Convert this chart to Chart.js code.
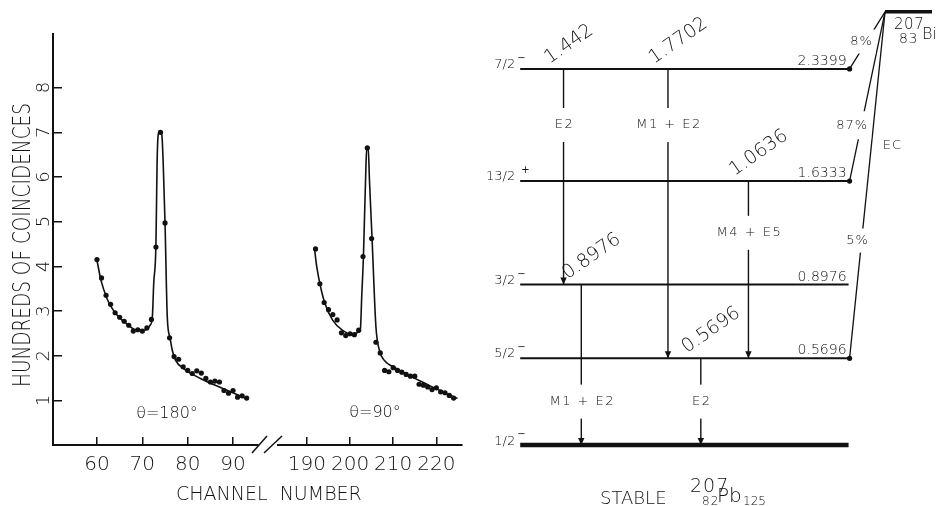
<!DOCTYPE html>
<html>
<head>
<meta charset="utf-8">
<script src="https://cdn.jsdelivr.net/npm/chart.js@4.4.0/dist/chart.umd.min.js"></script>
<style>
  html, body { margin: 0; padding: 0; background: #fff; }
  #wrap { position: relative; width: 936px; height: 506px; overflow: hidden; }
  canvas { position: absolute; top: 0; }
</style>
</head>
<body>
<div id="wrap">
  <canvas id="spec180" width="470" height="506" style="left:0;width:470px;height:506px"></canvas>
  <canvas id="spec90" width="210" height="506" style="left:262px;width:210px;height:506px"></canvas>
  <canvas id="levels" width="466" height="506" style="left:470px;width:466px;height:506px"></canvas>
</div>
<script>
// coincidence spectra, theta = 180 deg
const ch180 = [60,61,62,63,64,65,66,67,68,69,70,71,72,73,74,75,76,77,78,79,80,81,82,83,84,85,86,87,88,89,90,91,92,93];
const counts180 = [4.15,3.74,3.35,3.15,2.96,2.86,2.77,2.68,2.55,2.58,2.55,2.62,2.81,4.43,7.0,4.97,2.40,1.98,1.92,1.75,1.67,1.60,1.66,1.61,1.49,1.41,1.43,1.41,1.22,1.16,1.22,1.07,1.10,1.05];
const fitCh180 = [60,60.9,62.2,63.2,64.5,66.7,68.9,70.4,71.7,72.2,72.5,73.0,73.25,73.5,73.9,74.3,74.6,75,75.5,76.1,76.6,77.3,79.1,82.8,87.9,92.9];
const fit180 = [4.13,3.68,3.28,3.08,2.9,2.7,2.57,2.57,2.68,2.86,3.6,4.5,6.3,6.95,7.03,6.95,6.3,4.97,2.86,2.4,2.12,1.9,1.71,1.49,1.26,1.04];

// theta = 90 deg
const ch90 = [192,193,194,195,196,197,198,199,200,201,202,203,204,205,206,207,208,209,210,211,212,213,214,215,216,217,218,219,220,221,222,223,224];
const counts90 = [4.39,3.61,3.19,3.03,2.92,2.80,2.51,2.45,2.49,2.47,2.57,4.22,6.65,4.62,2.30,2.06,1.67,1.64,1.73,1.67,1.63,1.58,1.54,1.54,1.36,1.34,1.30,1.24,1.28,1.19,1.17,1.11,1.05];
const fitCh90 = [191.8,192.3,193.1,194.2,196,198.2,200.5,202,202.4,202.7,203.1,203.7,203.9,204.2,204.5,205.1,206.0,206.8,207.9,210.8,218.2,224.9];
const fit90 = [4.36,3.98,3.57,3.16,2.79,2.57,2.48,2.53,2.6,3.31,4.22,6.3,6.67,6.67,5.92,4.62,2.64,2.12,1.9,1.71,1.34,1.04];

const yTicks = [1,2,3,4,5,6,7,8];
const xTicksLow = [60,70,80,90];
const xTicksHigh = [190,200,210,220];

// 207Pb level scheme (MeV)
const levelEnergy = [0, 0.5696, 0.8976, 1.6333, 2.3399];
const levelSpin = ['1/2', '5/2', '3/2', '13/2', '7/2'];
const levelParity = ['\u2212', '\u2212', '\u2212', '+', '\u2212'];
const gammaFrom = [4, 4, 3, 2, 1];
const gammaTo = [2, 1, 1, 0, 0];
const gammaLabel = ['1.442', '1.7702', '1.0636', '0.8976', '0.5696'];
const gammaMult = ['E2', 'M1 + E2', 'M4 + E5', 'M1 + E2', 'E2'];
const ecLevel = [4, 3, 1];
const ecBranch = ['8%', '87%', '5%'];

// drawing layout of the scheme (not data): where each level sits in the schematic drawing
const levelDrawE = [0, 0.539, 0.998, 1.642, 2.3399];
const gammaCol = [13.2, 45, 69.5, 18.6, 55];
const multGap = [[4, 3], [4, 3], [3, 2], [1, 0], [1, 0]];
const parentDrawE = 2.695;
const ecAt = [0.52, 0.67, 0.66];
const ecDx = [-5, -9, -4];

const INK = '#111';
const FAM = '"DejaVu Sans"';

// piecewise scale: a level diagram is drawn schematically, not to scale
function warp(v) {
  const k = levelEnergy, d = levelDrawE, n = k.length;
  if (v <= k[0]) return d[0] + (v - k[0]);
  if (v >= k[n - 1]) return d[n - 1] + (v - k[n - 1]);
  for (let i = 1; i < n; i++) {
    if (v <= k[i]) return d[i - 1] + (v - k[i - 1]) * (d[i] - d[i - 1]) / (k[i] - k[i - 1]);
  }
}
class SchemeScale extends Chart.LinearScale {
  getPixelForValue(v) { return super.getPixelForValue(warp(v)); }
}
SchemeScale.id = 'scheme';
SchemeScale.defaults = Chart.LinearScale.defaults;
Chart.register(SchemeScale);

function txt(ctx, s, x, y, o = {}) {
  const size = o.size || 14;
  ctx.save();
  ctx.font = `${o.weight || (size <= 14 ? 400 : 200)} ${size}px ${FAM}`;
  ctx.textAlign = o.align || 'left';
  ctx.textBaseline = o.base || 'alphabetic';
  ctx.letterSpacing = (o.ls || 0) + 'px';
  ctx.translate(x, y);
  if (o.rot) ctx.rotate(o.rot * Math.PI / 180);
  if (o.sx) ctx.scale(o.sx, 1);
  if (o.bg) {
    const w = ctx.measureText(s).width;
    ctx.fillStyle = '#fff';
    ctx.fillRect(-w / 2 - o.bg[0], -o.bg[1] / 2, w + 2 * o.bg[0], o.bg[1]);
  }
  ctx.fillStyle = INK;
  ctx.fillText(s, 0, 0);
  ctx.restore();
}

function line(ctx, x1, y1, x2, y2, w) {
  ctx.save();
  ctx.strokeStyle = INK;
  ctx.lineWidth = w || 1.5;
  ctx.beginPath();
  ctx.moveTo(x1, y1);
  ctx.lineTo(x2, y2);
  ctx.stroke();
  ctx.restore();
}

function pts(xs, ys) { return xs.map((x, i) => ({ x, y: ys[i] })); }

function spectrumDatasets(chs, counts, fitCh, fit) {
  return [
    { type: 'line', data: pts(fitCh, fit), borderColor: INK, borderWidth: 1.6, pointRadius: 0,
      cubicInterpolationMode: 'monotone', fill: false },
    { data: pts(chs, counts), pointRadius: 2.6, pointBackgroundColor: INK, pointBorderWidth: 0 }
  ];
}

function xAxis(min, max, ticks) {
  return {
    type: 'linear', min, max,
    afterBuildTicks: s => { s.ticks = ticks.map(v => ({ value: v })); },
    afterFit: s => { s.height = 61; },
    grid: { drawOnChartArea: false, tickLength: -8, color: INK, lineWidth: 1.5 },
    border: { color: INK, width: 2 },
    ticks: { color: INK, padding: 16, font: { family: FAM, size: 20, weight: 200 } }
  };
}

const common = {
  responsive: false, animation: false, events: [],
  plugins: { legend: { display: false }, tooltip: { enabled: false } }
};

new Chart(document.getElementById('spec180'), {
  type: 'scatter',
  data: { datasets: spectrumDatasets(ch180, counts180, fitCh180, fit180) },
  options: {
    ...common,
    layout: { padding: { top: 34, right: 212, left: 0, bottom: 0 } },
    scales: {
      x: xAxis(50.3, 95.5, xTicksLow),
      y: {
        min: 0, max: 9.2,
        afterBuildTicks: s => { s.ticks = yTicks.map(v => ({ value: v })); },
        afterFit: s => { s.width = 53; },
        grid: { drawOnChartArea: false, tickLength: -9, color: INK, lineWidth: 1.5 },
        border: { color: INK, width: 2 },
        ticks: { color: INK, padding: 12, minRotation: 90, maxRotation: 90, crossAlign: 'center',
          font: { family: FAM, size: 18, weight: 200 } }
      }
    }
  },
  plugins: [{
    id: 'notes180',
    afterDraw(chart) {
      const ctx = chart.ctx, a = chart.chartArea;
      txt(ctx, 'HUNDREDS OF COINCIDENCES', 30, 245, { size: 24, sx: 0.77, rot: -90, align: 'center' });
      txt(ctx, '\u03b8=180\u00b0', 167, 418, { size: 16, align: 'center' });
      txt(ctx, 'CHANNEL  NUMBER', 176, 500, { size: 19 });
      // axis break
      line(ctx, a.right - 6, a.bottom + 8, a.right + 9, a.bottom - 9, 1.5);
      line(ctx, a.right + 6, a.bottom + 8, a.right + 24, a.bottom - 9, 1.5);
    }
  }]
});

new Chart(document.getElementById('spec90'), {
  type: 'scatter',
  data: { datasets: spectrumDatasets(ch90, counts90, fitCh90, fit90) },
  options: {
    ...common,
    layout: { padding: { top: 34, right: 2, left: 16, bottom: 0 } },
    scales: {
      x: xAxis(183.3, 226, xTicksHigh),
      y: { min: 0, max: 9.2, display: false }
    }
  },
  plugins: [{
    id: 'notes90',
    afterDraw(chart) {
      txt(chart.ctx, '\u03b8=90\u00b0', 113, 417, { size: 16, align: 'center' });
    }
  }]
});

// level scheme
const schemeSets = [];
levelEnergy.forEach((e, i) => {
  schemeSets.push({ data: [{ x: 0, y: e }, { x: 100, y: e }], borderWidth: i === 0 ? 4.5 : 2 });
});
schemeSets.push({ data: [{ x: 111.1, y: parentDrawE }, { x: 126, y: parentDrawE }], borderWidth: 3.5 });
gammaFrom.forEach((f, i) => {
  schemeSets.push({ data: [{ x: gammaCol[i], y: levelEnergy[f] }, { x: gammaCol[i], y: levelEnergy[gammaTo[i]] }], borderWidth: 1.4 });
});
ecLevel.forEach(l => {
  schemeSets.push({ data: [{ x: 111.1, y: parentDrawE }, { x: 100.3, y: levelEnergy[l] }], borderWidth: 1.3,
    pointRadius: [0, 2.6], pointBackgroundColor: INK, pointBorderWidth: 0 });
});
schemeSets.forEach(d => {
  d.showLine = true; d.borderColor = INK;
  if (d.pointRadius === undefined) d.pointRadius = 0;
});

new Chart(document.getElementById('levels'), {
  type: 'scatter',
  data: { datasets: schemeSets },
  options: {
    ...common,
    layout: { padding: 0 },
    scales: {
      x: { type: 'linear', min: -14.07, max: 125.4, display: false },
      y: { type: 'scheme', min: -0.355, max: 2.744, display: false }
    }
  },
  plugins: [{
    id: 'schemeText',
    afterDatasetsDraw(chart) {
      const ctx = chart.ctx, X = chart.scales.x, Y = chart.scales.y;
      const px = v => X.getPixelForValue(v), py = v => Y.getPixelForValue(v);

      levelEnergy.forEach((e, i) => {
        const y = py(e);
        txt(ctx, levelSpin[i], px(0) - 5, y - (i === 0 ? 0 : 1), { size: 13, align: 'right', weight: 300 });
        txt(ctx, levelParity[i], px(0) - 3 + (i === 3 ? 4 : 0), y - 8, { size: 10 });
        if (i > 0) txt(ctx, levelEnergy[i].toFixed(4), px(100) - 2, y - 4, { size: 14, align: 'right', weight: 300 });
      });

      gammaFrom.forEach((f, i) => {
        const x = px(gammaCol[i]);
        const yTo = py(levelEnergy[gammaTo[i]]);
        // arrow head
        ctx.save();
        ctx.fillStyle = INK;
        ctx.beginPath();
        ctx.moveTo(x, yTo);
        ctx.lineTo(x - 3.2, yTo - 7);
        ctx.lineTo(x + 3.2, yTo - 7);
        ctx.closePath();
        ctx.fill();
        ctx.restore();
        const g = multGap[i];
        const ym = (py(levelEnergy[g[0]]) + py(levelEnergy[g[1]])) / 2;
        txt(ctx, gammaMult[i], x + 1, ym, { size: 13, ls: 1.5, align: 'center', base: 'middle', bg: [4, 34], weight: 300 });
        txt(ctx, gammaLabel[i], x - 14, py(levelEnergy[f]) - 5, { size: 19, rot: -35 });
      });

      const x0 = px(111.1), y0 = py(parentDrawE);
      ecLevel.forEach((l, i) => {
        const x1 = px(100.3), y1 = py(levelEnergy[l]);
        const t = ecAt[i];
        txt(ctx, ecBranch[i], x0 + (x1 - x0) * t + ecDx[i], y0 + (y1 - y0) * t, {
          size: 13, ls: 1, align: 'center', base: 'middle', bg: [3, i === 1 ? 28 : 24], weight: 300 });
      });
      {
        const x1 = px(100.3), y1 = py(levelEnergy[1]);
        const t = 0.386;
        txt(ctx, 'EC', x0 + (x1 - x0) * t + 21, y0 + (y1 - y0) * t, { size: 13, ls: 1, align: 'center', base: 'middle', weight: 300 });
      }

      txt(ctx, '207', x0 + 9, y0 + 17, { size: 15, ls: 0.5, weight: 300 });
      txt(ctx, '83', x0 + 14, y0 + 31, { size: 14, ls: 0.5, weight: 300 });
      txt(ctx, 'Bi', x0 + 37, y0 + 27, { size: 16 });

      txt(ctx, 'STABLE', 130, 504, { size: 18 });
      txt(ctx, '207', 220, 492, { size: 19, ls: 1 });
      txt(ctx, '82', 232, 505, { size: 12, ls: 1, weight: 300 });
      txt(ctx, 'Pb', 247, 502, { size: 20 });
      txt(ctx, '125', 273, 505, { size: 12, weight: 300 });
    }
  }]
});
</script>
</body>
</html>
